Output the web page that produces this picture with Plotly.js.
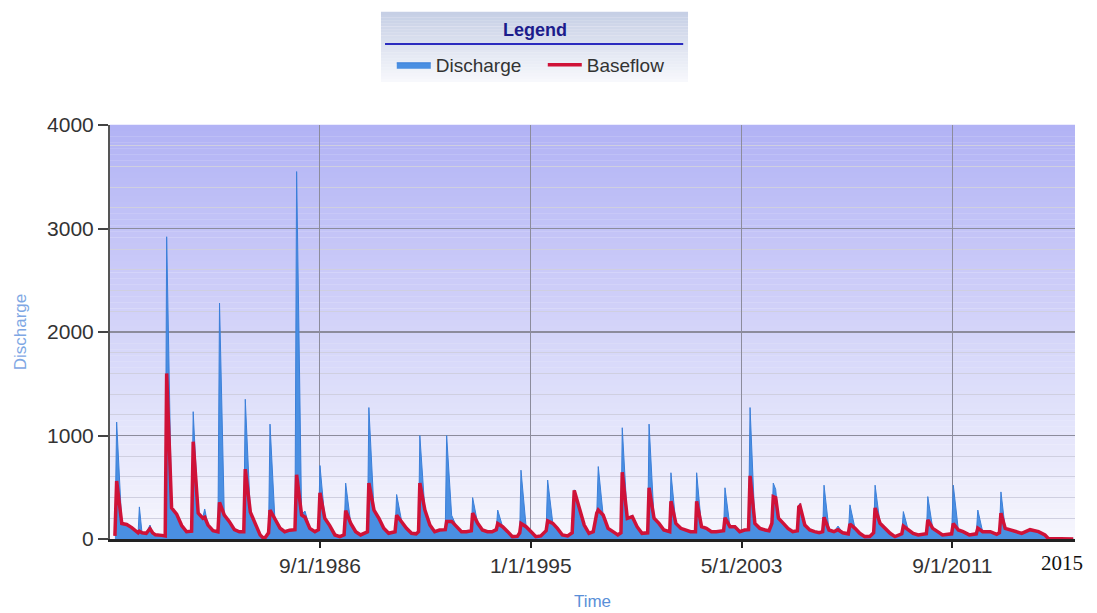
<!DOCTYPE html>
<html>
<head>
<meta charset="utf-8">
<script src="https://cdn.plot.ly/plotly-3.0.1.min.js"></script>
<style>
  html, body { margin: 0; padding: 0; background: #ffffff; }
  #chart { width: 1097px; height: 613px; }
</style>
</head>
<body>
<div id="chart"></div>
<script>
// ---- Data (key points of the monthly hydrograph) ----
const dates = [
  '1978-07-25','1978-08-19','1978-11-01','1979-01-10','1979-03-25','1979-06-01',
  '1979-06-25','1979-07-13','1979-08-20','1979-10-20','1979-12-13','1980-01-20','1980-03-01','1980-06-01',
  '1980-07-20','1980-08-10','1980-10-20','1981-01-01','1981-03-15','1981-05-25',
  '1981-08-05','1981-08-28','1981-11-08','1982-01-15','1982-02-10','1982-03-30','1982-06-10',
  '1982-08-20','1982-09-12','1982-11-20','1983-01-30','1983-04-15','1983-06-25',
  '1983-08-28','1983-09-19','1983-12-01','1984-02-10','1984-04-20','1984-06-18',
  '1984-08-20','1984-09-10','1984-11-20','1985-02-01','1985-04-10','1985-06-20',
  '1985-09-05','1985-09-29','1985-12-10','1986-01-28','1986-04-08','1986-06-20',
  '1986-08-10','1986-09-01','1986-11-10','1987-01-20','1987-04-05','1987-06-15',
  '1987-08-15','1987-09-07','1987-11-20','1988-01-30','1988-04-10','1988-06-20',
  '1988-07-18','1988-08-07','1988-10-20','1988-12-30','1989-03-10','1989-05-20',
  '1989-08-20','1989-09-12','1989-11-25','1990-02-01','1990-04-15','1990-06-20',
  '1990-07-25','1990-08-13','1990-10-25','1991-01-05','1991-03-15','1991-05-25',
  '1991-08-15','1991-09-04','1991-11-15','1992-01-25','1992-04-05','1992-06-15',
  '1992-08-25','1992-09-13','1992-11-25','1993-02-01','1993-04-15','1993-06-20',
  '1993-08-20','1993-09-10','1993-11-20','1994-02-01','1994-04-10','1994-06-20',
  '1994-07-25','1994-08-12','1994-10-25','1995-01-05','1995-03-15','1995-05-25',
  '1995-08-10','1995-09-01','1995-11-15','1996-01-20','1996-04-01','1996-06-15',
  '1996-08-20','1996-09-19','1996-12-01','1997-02-10','1997-04-20','1997-06-20',
  '1997-08-10','1997-09-01','1997-11-10','1998-01-20','1998-04-01','1998-06-10',
  '1998-07-25','1998-08-13','1998-10-25','1999-01-05','1999-03-15','1999-05-25',
  '1999-08-15','1999-09-04','1999-11-15','2000-01-25','2000-04-05','2000-06-15',
  '2000-06-28','2000-07-16','2000-09-25','2000-12-05','2001-02-15','2001-04-25',
  '2001-07-05','2001-07-22','2001-10-01','2001-12-10','2002-02-20','2002-05-01',
  '2002-08-15','2002-09-04','2002-11-15','2003-01-25','2003-04-05','2003-06-15',
  '2003-08-10','2003-09-01','2003-11-10','2004-01-20','2004-04-05','2004-06-01',
  '2004-07-12','2004-08-01','2004-09-05','2004-10-15','2004-12-25','2005-03-01','2005-05-10',
  '2005-07-15','2005-08-05','2005-08-22','2005-10-30','2006-01-10','2006-03-20','2006-05-25',
  '2006-07-15','2006-08-04','2006-10-15','2006-12-25','2007-02-22','2007-05-01',
  '2007-07-20','2007-08-13','2007-10-25','2008-01-01','2008-03-15','2008-05-25',
  '2008-07-20','2008-08-10','2008-10-20','2008-12-30','2009-03-15','2009-05-25',
  '2009-08-30','2009-09-22','2009-12-01','2010-02-10','2010-04-25',
  '2010-08-20','2010-09-10','2010-11-20','2011-01-30','2011-04-10',
  '2011-08-20','2011-09-13','2011-11-25','2012-02-01','2012-05-01',
  '2012-08-10','2012-09-01','2012-11-10','2013-03-01','2013-06-01',
  '2013-07-10','2013-08-01','2013-10-01','2013-12-10','2014-02-20','2014-05-28',
  '2014-09-25','2015-01-25','2015-04-28','2015-06-15','2016-06-10'
];

const discharge = [
  30,1130,150,140,110,65,
  60,310,60,60,135,60,40,35,
  30,2920,300,240,130,70,
  75,1230,250,210,290,135,80,
  70,2280,230,170,90,70,
  70,1350,260,150,40,0,
  60,1110,185,105,70,85,
  90,3550,240,270,103,71,
  90,710,200,130,39,23,
  40,540,150,71,39,55,
  70,1270,280,200,103,55,
  70,430,167,103,55,50,
  70,1000,280,135,71,87,
  90,1000,230,119,71,71,
  80,400,151,87,71,70,
  90,280,119,71,23,25,
  60,665,119,71,23,30,
  80,570,151,103,39,30,
  60,475,296,135,55,70,
  250,700,232,103,71,39,
  60,1075,200,230,119,55,
  60,1110,200,151,87,71,
  70,640,151,103,87,71,
  70,640,119,103,71,71,
  80,495,119,119,71,87,
  90,1270,151,103,87,80,
  150,540,480,200,151,103,71,
  80,320,345,135,87,71,60,
  70,520,87,71,125,60,
  50,330,103,55,23,25,
  60,520,151,103,55,23,
  50,265,87,55,39,
  50,410,103,71,39,
  50,520,87,71,40,
  50,280,71,71,45,
  60,455,103,87,71,55,
  90,71,39,5,0
];

const baseflow = [
  30,560,150,140,110,65,
  60,75,60,55,100,60,40,35,
  30,1600,300,240,130,70,
  75,940,250,200,210,135,80,
  70,355,230,170,90,70,
  70,675,260,150,40,0,
  60,280,185,105,70,85,
  90,620,232,210,103,71,
  90,445,200,130,39,23,
  40,275,150,71,39,55,
  70,540,280,200,103,55,
  70,230,167,103,55,50,
  70,540,280,135,71,87,
  90,170,170,119,71,71,
  80,250,151,87,71,70,
  90,150,119,71,23,25,
  60,150,119,71,23,30,
  80,175,151,103,39,30,
  60,470,296,135,55,70,
  250,280,232,103,71,39,
  60,645,200,216,119,55,
  60,495,200,151,87,71,
  70,365,151,103,87,71,
  70,365,119,103,71,71,
  80,205,119,119,71,87,
  90,610,151,103,87,80,
  150,410,400,200,151,103,71,
  80,310,320,135,87,71,60,
  70,210,87,71,90,60,
  50,145,103,55,23,25,
  60,300,151,103,55,23,
  50,125,87,55,39,
  50,185,103,71,39,
  50,150,87,71,40,
  50,105,71,71,45,
  60,250,103,87,71,55,
  90,71,39,5,0
];

const seriesNames = ['Discharge', 'Baseflow'];
const xTickDates  = ['1986-09-01', '1995-01-01', '2003-05-01', '2011-09-01'];
const xTickLabels = ['9/1/1986', '1/1/1995', '5/1/2003', '9/1/2011'];
const yTickValues = [0, 1000, 2000, 3000, 4000];
const extraYearLabel = '2015';

// ---- Styling helpers ----
function mix(a, b, t) {
  return 'rgb(' + a.map((v, i) => Math.round(v + (b[i] - v) * t)).join(',') + ')';
}
const shapes = [];
// Plot-area vertical gradient (purple-blue at top, almost white at bottom)
const N = 70;
const bottomCol = [246, 246, 253], topCol = [178, 179, 245];
for (let i = 0; i < N; i++) {
  shapes.push({
    type: 'rect', xref: 'paper', yref: 'paper', layer: 'below',
    x0: 0, x1: 1, y0: i / N, y1: (i + 1) / N + 0.0005,
    line: { width: 0 }, fillcolor: mix(bottomCol, topCol, i / (N - 1))
  });
}
// Legend box gradient
const LB = { x0: 0.2808, x1: 0.599, y0: 1.1039, y1: 1.2729 };
const M = 24;
for (let i = 0; i < M; i++) {
  const ya = LB.y0 + (LB.y1 - LB.y0) * i / M;
  const yb = LB.y0 + (LB.y1 - LB.y0) * (i + 1) / M + 0.0005;
  shapes.push({
    type: 'rect', xref: 'paper', yref: 'paper', layer: 'below',
    x0: LB.x0, x1: LB.x1, y0: ya, y1: yb,
    line: { width: 0 }, fillcolor: mix([247, 248, 252], [198, 207, 229], i / (M - 1))
  });
}
// Legend title underline
shapes.push({
  type: 'line', xref: 'paper', yref: 'paper', layer: 'below',
  x0: 0.285, x1: 0.594, y0: 1.1957, y1: 1.1957,
  line: { color: '#2b2bbf', width: 2 }
});

const traces = [
  {
    x: dates, y: discharge, name: seriesNames[0], type: 'scatter', mode: 'lines',
    fill: 'tozeroy', fillcolor: '#4a8fe2',
    line: { color: '#3b7fd9', width: 1 }
  },
  {
    x: dates, y: baseflow, name: seriesNames[1], type: 'scatter', mode: 'lines',
    line: { color: '#cf1238', width: 3.5 }
  }
];

const layout = {
  width: 1097, height: 613,
  margin: { l: 110, r: 22, t: 125, b: 74 },
  paper_bgcolor: '#ffffff',
  plot_bgcolor: 'rgba(0,0,0,0)',
  font: { family: '"Liberation Sans", Arial, sans-serif', color: '#333333' },
  showlegend: true,
  legend: {
    orientation: 'h', x: 0.292, xanchor: 'left', y: 1.145, yanchor: 'middle',
    bgcolor: 'rgba(0,0,0,0)', borderwidth: 0,
    font: { size: 19, color: '#333333' }, itemwidth: 34,
    entrywidth: 102, entrywidthmode: 'pixels'
  },
  xaxis: {
    type: 'date',
    range: ['1978-05-15', '2016-07-05'],
    tickmode: 'array', tickvals: xTickDates, ticktext: xTickLabels,
    ticks: 'outside', ticklen: 6, tickwidth: 2, tickcolor: '#222222',
    tickfont: { size: 21, color: '#333333' },
    showline: true, linecolor: '#222222', linewidth: 2.5,
    showgrid: true, gridcolor: '#8c8c9c', gridwidth: 1,
    zeroline: false,
    title: { text: 'Time', font: { size: 17, color: '#5a8fd8' }, standoff: 20 }
  },
  yaxis: {
    range: [0, 4000],
    tickmode: 'array', tickvals: yTickValues,
    ticks: 'outside', ticklen: 10, tickwidth: 2, tickcolor: '#444444',
    tickfont: { size: 21, color: '#333333' },
    showline: true, linecolor: '#555555', linewidth: 2,
    showgrid: true, gridcolor: '#8c8c9c', gridwidth: 1.2,
    minor: { dtick: 200, showgrid: true, gridcolor: '#cfcfe0', gridwidth: 1, ticks: '' },
    zeroline: false,
    title: { text: 'Discharge', font: { size: 17, color: '#7ea7e4' }, standoff: 16 }
  },
  shapes: shapes,
  annotations: [
    {
      text: '<b>Legend</b>', xref: 'paper', yref: 'paper',
      x: 0.4404, y: 1.2295, xanchor: 'center', yanchor: 'middle', showarrow: false,
      font: { size: 18, color: '#1c1c8c' }
    },
    {
      text: extraYearLabel, xref: 'paper', yref: 'paper',
      x: 0.9865, y: -0.058, xanchor: 'center', yanchor: 'middle', showarrow: false,
      font: { family: '"Liberation Serif", "Times New Roman", serif', size: 21, color: '#111111' }
    }
  ]
};

Plotly.newPlot('chart', traces, layout, { staticPlot: true, displayModeBar: false });
</script>
</body>
</html>
